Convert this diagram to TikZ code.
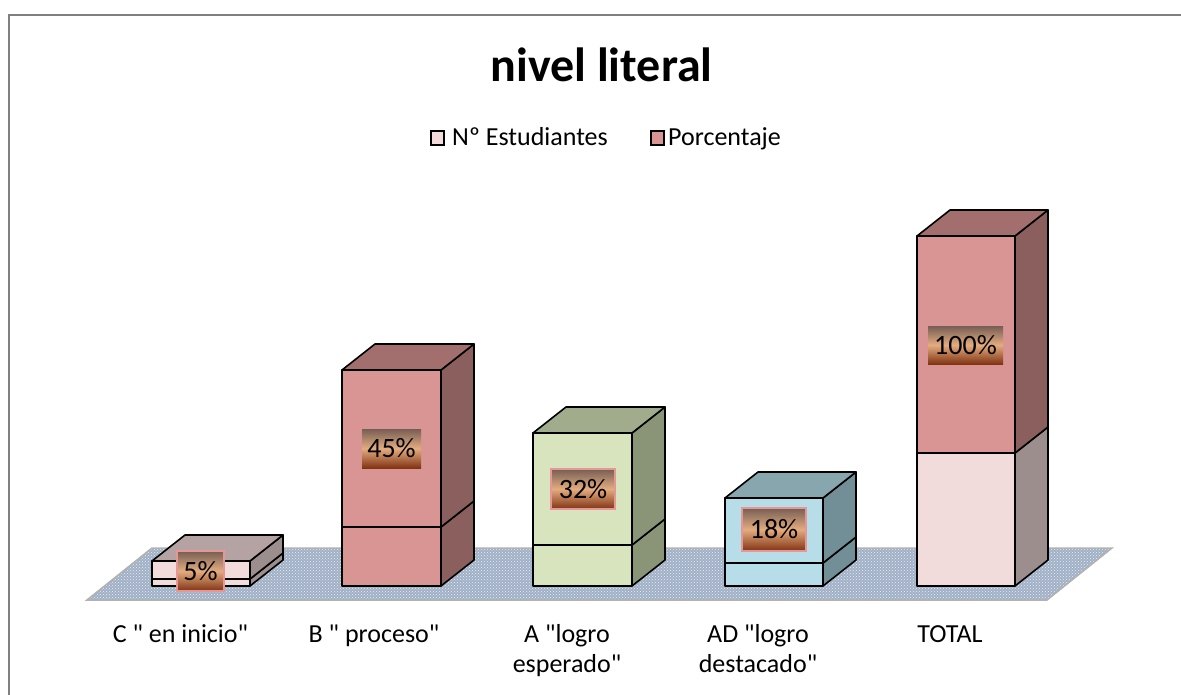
\documentclass[tikz,border=0pt]{standalone}
\usepackage{fontspec}
\setmainfont{Carlito}[Ligatures=TeXOff]
\usetikzlibrary{patterns}
\definecolor{pinkL}{RGB}{242,220,219}
\definecolor{pinkLside}{RGB}{157,142,142}
\definecolor{pinkLtop}{RGB}{181,163,163}
\definecolor{pinkD}{RGB}{217,149,148}
\definecolor{pinkDside}{RGB}{139,95,94}
\definecolor{pinkDtop}{RGB}{163,111,110}
\definecolor{grn}{RGB}{215,228,189}
\definecolor{grnside}{RGB}{138,149,119}
\definecolor{grntop}{RGB}{161,172,140}
\definecolor{blu}{RGB}{183,222,232}
\definecolor{bluside}{RGB}{114,143,151}
\definecolor{blutop}{RGB}{136,166,174}
\definecolor{floorc}{RGB}{160,176,198}
\definecolor{lblborder}{RGB}{230,150,150}
\def\bdx{33}
\def\bdy{26}
\newcommand{\barseg}[6]{%
  \filldraw[barline,fill=#5] (#1,#3) rectangle (#2,#4);
  \filldraw[barline,fill=#6] (#2,#3) -- ++(\bdx,-\bdy) -- (#2+\bdx,#4-\bdy) -- (#2,#4) -- cycle;}
\newcommand{\bartop}[4]{%
  \filldraw[barline,fill=#4] (#1,#3) -- ++(\bdx,-\bdy) -- (#2+\bdx,#3-\bdy) -- (#2,#3) -- cycle;}
\begin{document}
\begin{tikzpicture}[x=1pt,y=-1pt,
  barline/.style={draw=black,line width=1.6pt,line join=round},
  lbl/.style={draw=lblborder,line width=1.2pt,top color={rgb,255:red,118;green,94;blue,84},bottom color={rgb,255:red,128;green,52;blue,18},middle color={rgb,255:red,228;green,172;blue,128},inner sep=0pt,font=\fontsize{28}{32}\selectfont,text=black},
  cat/.style={font=\fontsize{26}{30}\selectfont,align=center,anchor=base},
  legbox/.style={draw=black,line width=1.6pt}]
\useasboundingbox (0,0) rectangle (1181,695);
\fill[white] (0,0) rectangle (1181,695);
% outer border
\draw[gray,line width=2pt] (9,700) -- (9,15) -- (1190,15);
% title
\node[font=\bfseries\fontsize{48}{54}\selectfont,anchor=base] (title) at (601.5,82) {nivel literal};
% legend
\filldraw[legbox,fill=pinkL] (431,131) rectangle (444,145);
\node[font=\fontsize{26}{30}\selectfont,anchor=base west,inner sep=0pt] (leg1) at (452,146) {Nº Estudiantes};
\filldraw[legbox,fill=pinkD] (651,131) rectangle (664,145);
\node[font=\fontsize{26}{30}\selectfont,anchor=base west,inner sep=0pt] (leg2) at (668,146) {Porcentaje};
% floor
\fill[floorc] (87,600) -- (152,548) -- (1112,548) -- (1047,600) -- cycle;
\path[pattern=crosshatch dots,pattern color=white!80!floorc] (87,600) -- (152,548) -- (1112,548) -- (1047,600) -- cycle;
\draw[gray!60,line width=1.5pt] (87,600) -- (152,548) -- (1112,548) -- (1047,600) -- cycle;
% bar 1 C
\barseg{152}{250}{586}{579}{pinkL}{pinkLside}
\barseg{152}{250}{579}{561}{pinkL}{pinkLside}
\bartop{152}{250}{561}{pinkLtop}
% bar 2 B
\barseg{342}{441}{586}{527}{pinkD}{pinkDside}
\barseg{342}{441}{527}{370}{pinkD}{pinkDside}
\bartop{342}{441}{370}{pinkDtop}
% bar 3 A
\barseg{533}{632}{586}{545}{grn}{grnside}
\barseg{533}{632}{545}{433}{grn}{grnside}
\bartop{533}{632}{433}{grntop}
% bar 4 AD
\barseg{725}{823}{586}{563}{blu}{bluside}
\barseg{725}{823}{563}{498}{blu}{bluside}
\bartop{725}{823}{498}{blutop}
% bar 5 TOTAL
\barseg{917}{1015}{586}{453}{pinkL}{pinkLside}
\barseg{917}{1015}{453}{236}{pinkD}{pinkDside}
\bartop{917}{1015}{236}{pinkDtop}
% data labels
\node[lbl,minimum width=47pt,minimum height=40pt] (v1) at (200.5,571) {5\%};
\node[lbl,minimum width=59pt,minimum height=39pt,draw=none] (v2) at (391.5,448.5) {45\%};
\node[lbl,minimum width=64pt,minimum height=40pt] (v3) at (583,489) {32\%};
\node[lbl,minimum width=64pt,minimum height=43pt] (v4) at (774,529.5) {18\%};
\node[lbl,minimum width=75pt,minimum height=38pt,draw=none] (v5) at (965.5,345) {100\%};
% category labels
\node[cat] (c1) at (180.5,642) {C " en inicio"};
\node[cat] (c2) at (374,642) {B " proceso"};
\node[cat] (c3) at (567,672) {A "logro\\esperado"};
\node[cat] (c4) at (758,672) {AD "logro\\destacado"};
\node[cat] (c5) at (950,642) {TOTAL};
\end{tikzpicture}
\end{document}
